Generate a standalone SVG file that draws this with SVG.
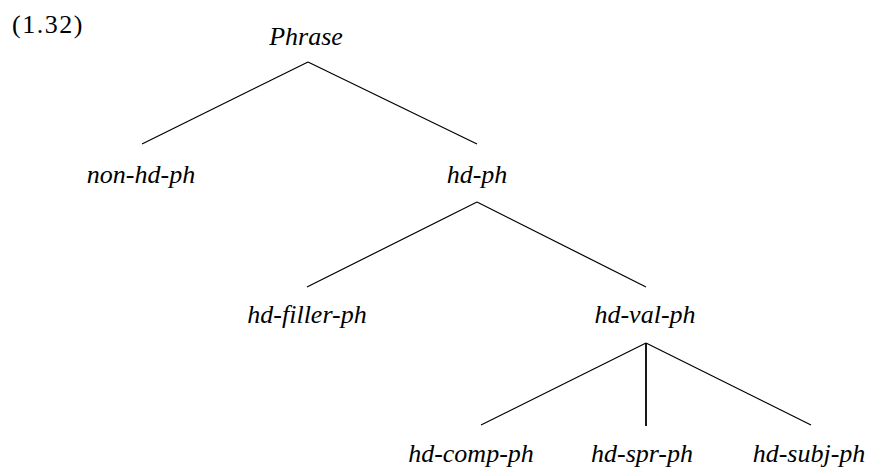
<svg xmlns="http://www.w3.org/2000/svg" width="875" height="468" viewBox="0 0 875 468">
<style>
text{font-family:"Liberation Serif","DejaVu Serif",serif;font-size:26px;fill:#000}
.n{font-style:italic;text-anchor:middle}
.e{stroke:#000;stroke-width:1.2;fill:none}
.v{stroke:#000;stroke-width:1.8;fill:none}
</style>
<rect width="875" height="468" fill="#fff"/>
<text x="12" y="33" style="letter-spacing:1.5px">(1.32)</text>
<g id="connectors">
<line class="e" x1="308" y1="62" x2="142" y2="144"/>
<line class="e" x1="308" y1="62" x2="477" y2="144"/>
<line class="e" x1="477" y1="202" x2="307" y2="287"/>
<line class="e" x1="477" y1="202" x2="646" y2="287"/>
<line class="e" x1="646" y1="343" x2="481" y2="425"/>
<line class="v" x1="646" y1="343" x2="646" y2="426"/>
<line class="e" x1="646" y1="343" x2="811" y2="425"/>
</g>
<g id="phrase"><text class="n" x="306" y="45">Phrase</text></g>
<g id="non-hd-ph"><text class="n" x="141" y="183">non-hd-ph</text></g>
<g id="hd-ph"><text class="n" x="477" y="183">hd-ph</text></g>
<g id="hd-filler-ph"><text class="n" x="307" y="323">hd-filler-ph</text></g>
<g id="hd-val-ph"><text class="n" x="645" y="323">hd-val-ph</text></g>
<g id="hd-comp-ph"><text class="n" x="471" y="462">hd-comp-ph</text></g>
<g id="hd-spr-ph"><text class="n" x="642" y="462">hd-spr-ph</text></g>
<g id="hd-subj-ph"><text class="n" x="809" y="462">hd-subj-ph</text></g>
</svg>
